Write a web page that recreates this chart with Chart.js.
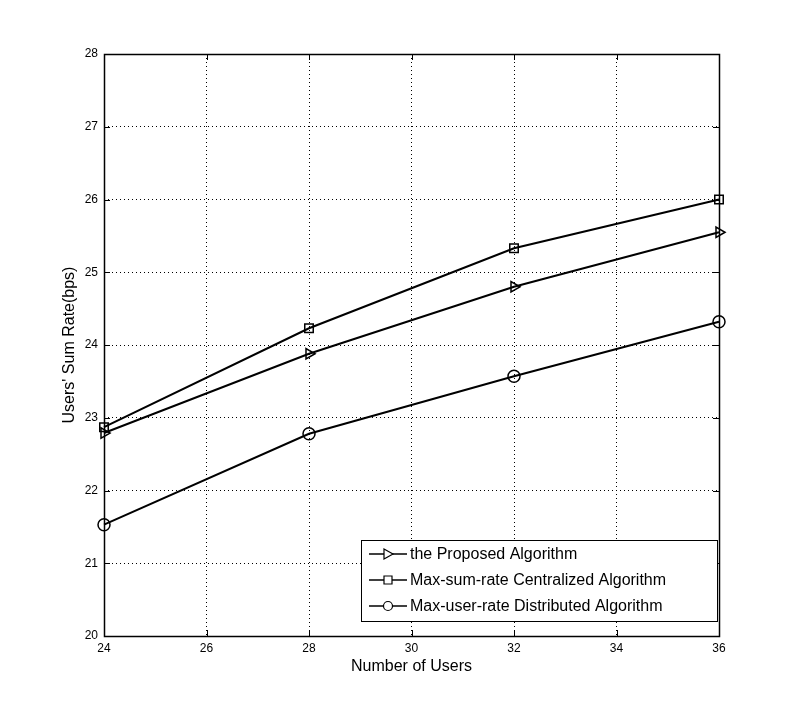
<!DOCTYPE html>
<html>
<head>
<meta charset="utf-8">
<script src="https://cdn.jsdelivr.net/npm/chart.js@4"></script>
<style>
  body { margin: 0; background: #fff; }
  canvas { display: block; }
</style>
</head>
<body>
<canvas id="rateChart" width="795" height="715"></canvas>
<script>
const users = [24, 28, 32, 36];
const proposed = [22.79, 23.88, 24.80, 25.55];
const centralized = [22.87, 24.23, 25.33, 26.00];
const distributed = [21.53, 22.78, 23.57, 24.32];
const seriesNames = [
    'the Proposed Algorithm',
    'Max-sum-rate Centralized Algorithm',
    'Max-user-rate Distributed Algorithm'
];
const xTicks = [24, 26, 28, 30, 32, 34, 36];
const yTicks = [20, 21, 22, 23, 24, 25, 26, 27, 28];
const xTitle = 'Number of Users';
const yTitle = "Users' Sum Rate(bps)";

const font = 'Liberation Sans, Arial, sans-serif';

function toPoints(vals) {
    return users.map((u, i) => ({ x: u, y: vals[i] }));
}

// frame, inward ticks, axis titles and the boxed legend in the lower right
const framePlugin = {
    id: 'frame',
    afterDraw(chart) {
        const ctx = chart.ctx;
        const a = chart.chartArea;
        const xs = chart.scales.x, ys = chart.scales.y;
        ctx.save();
        ctx.strokeStyle = '#000';
        ctx.lineWidth = 1;
        ctx.beginPath();
        xTicks.forEach(t => {
            const px = Math.round(xs.getPixelForValue(t)) + 0.5;
            ctx.moveTo(px, a.bottom); ctx.lineTo(px, a.bottom - 6);
            ctx.moveTo(px, a.top); ctx.lineTo(px, a.top + 6);
        });
        yTicks.forEach(t => {
            const py = Math.round(ys.getPixelForValue(t)) + 0.5;
            ctx.moveTo(a.left, py); ctx.lineTo(a.left + 6, py);
            ctx.moveTo(a.right, py); ctx.lineTo(a.right - 6, py);
        });
        ctx.stroke();
        ctx.lineWidth = 1.5;
        ctx.strokeRect(Math.round(a.left) + 0.5, Math.round(a.top) + 0.5,
            Math.round(a.right - a.left), Math.round(a.bottom - a.top));

        // axis titles
        ctx.fillStyle = '#000';
        ctx.font = '16px ' + font;
        ctx.textAlign = 'center';
        ctx.textBaseline = 'middle';
        ctx.fillText(xTitle, (a.left + a.right) / 2, 667);
        ctx.save();
        ctx.translate(70, (a.top + a.bottom) / 2);
        ctx.rotate(-Math.PI / 2);
        ctx.fillText(yTitle, 0, 0);
        ctx.restore();

        // legend
        const lx = 361, ly = 540, lw = 356, lh = 81;
        ctx.fillStyle = '#fff';
        ctx.fillRect(lx, ly, lw, lh);
        ctx.strokeStyle = '#000';
        ctx.lineWidth = 1;
        ctx.strokeRect(lx + 0.5, ly + 0.5, lw, lh);
        ctx.textBaseline = 'middle';
        ctx.textAlign = 'left';
        chart.data.datasets.forEach((ds, i) => {
            const yy = ly + 14 + i * 26;
            ctx.lineWidth = 1.5;
            ctx.beginPath();
            ctx.moveTo(lx + 8, yy); ctx.lineTo(lx + 46, yy);
            ctx.stroke();
            ctx.lineWidth = 1.2;
            ctx.beginPath();
            const cx = lx + 27;
            if (ds.pointStyle === 'triangle') {
                ctx.moveTo(cx - 4, yy - 5); ctx.lineTo(cx + 5, yy); ctx.lineTo(cx - 4, yy + 5); ctx.closePath();
            } else if (ds.pointStyle === 'rect') {
                ctx.rect(cx - 4, yy - 4, 8, 8);
            } else {
                ctx.arc(cx, yy, 4.5, 0, Math.PI * 2);
            }
            ctx.fillStyle = '#fff';
            ctx.fill();
            ctx.stroke();
            ctx.fillStyle = '#000';
            ctx.fillText(ds.label, lx + 49, yy + 1);
        });
        ctx.restore();
    }
};

function makeSet(label, vals, style, rot) {
    return {
        label: label,
        data: toPoints(vals),
        borderColor: '#000',
        backgroundColor: 'rgba(0,0,0,0)',
        borderWidth: 2,
        pointStyle: style,
        pointRotation: rot,
        pointRadius: 6,
        pointBorderWidth: 1.5,
        pointBorderColor: '#000',
        pointBackgroundColor: 'rgba(0,0,0,0)',
        tension: 0
    };
}

const ctx = document.getElementById('rateChart').getContext('2d');
new Chart(ctx, {
    type: 'line',
    data: {
        datasets: [
            makeSet(seriesNames[0], proposed, 'triangle', 90),
            makeSet(seriesNames[1], centralized, 'rect', 0),
            makeSet(seriesNames[2], distributed, 'circle', 0)
        ]
    },
    options: {
        responsive: false,
        animation: false,
        clip: false,
        layout: { padding: { left: 0, top: 54, right: 76, bottom: 0 } },
        plugins: {
            legend: { display: false },
            tooltip: { enabled: false }
        },
        scales: {
            x: {
                type: 'linear',
                min: 24,
                max: 36,
                afterBuildTicks(scale) { scale.ticks = xTicks.map(v => ({ value: v })); },
                afterFit(scale) { scale.height = 79; },
                grid: { color: '#000', lineWidth: 1, drawTicks: false },
                border: { display: false, dash: [1, 3] },
                ticks: { color: '#000', font: { family: font, size: 12 }, padding: 5, maxRotation: 0 }
            },
            y: {
                min: 20,
                max: 28,
                afterBuildTicks(scale) { scale.ticks = yTicks.map(v => ({ value: v })); },
                afterFit(scale) { scale.width = 104; },
                grid: { color: '#000', lineWidth: 1, drawTicks: false },
                border: { display: false, dash: [1, 3] },
                ticks: { color: '#000', font: { family: font, size: 12 }, padding: 6 }
            }
        }
    },
    plugins: [framePlugin]
});
</script>
</body>
</html>
